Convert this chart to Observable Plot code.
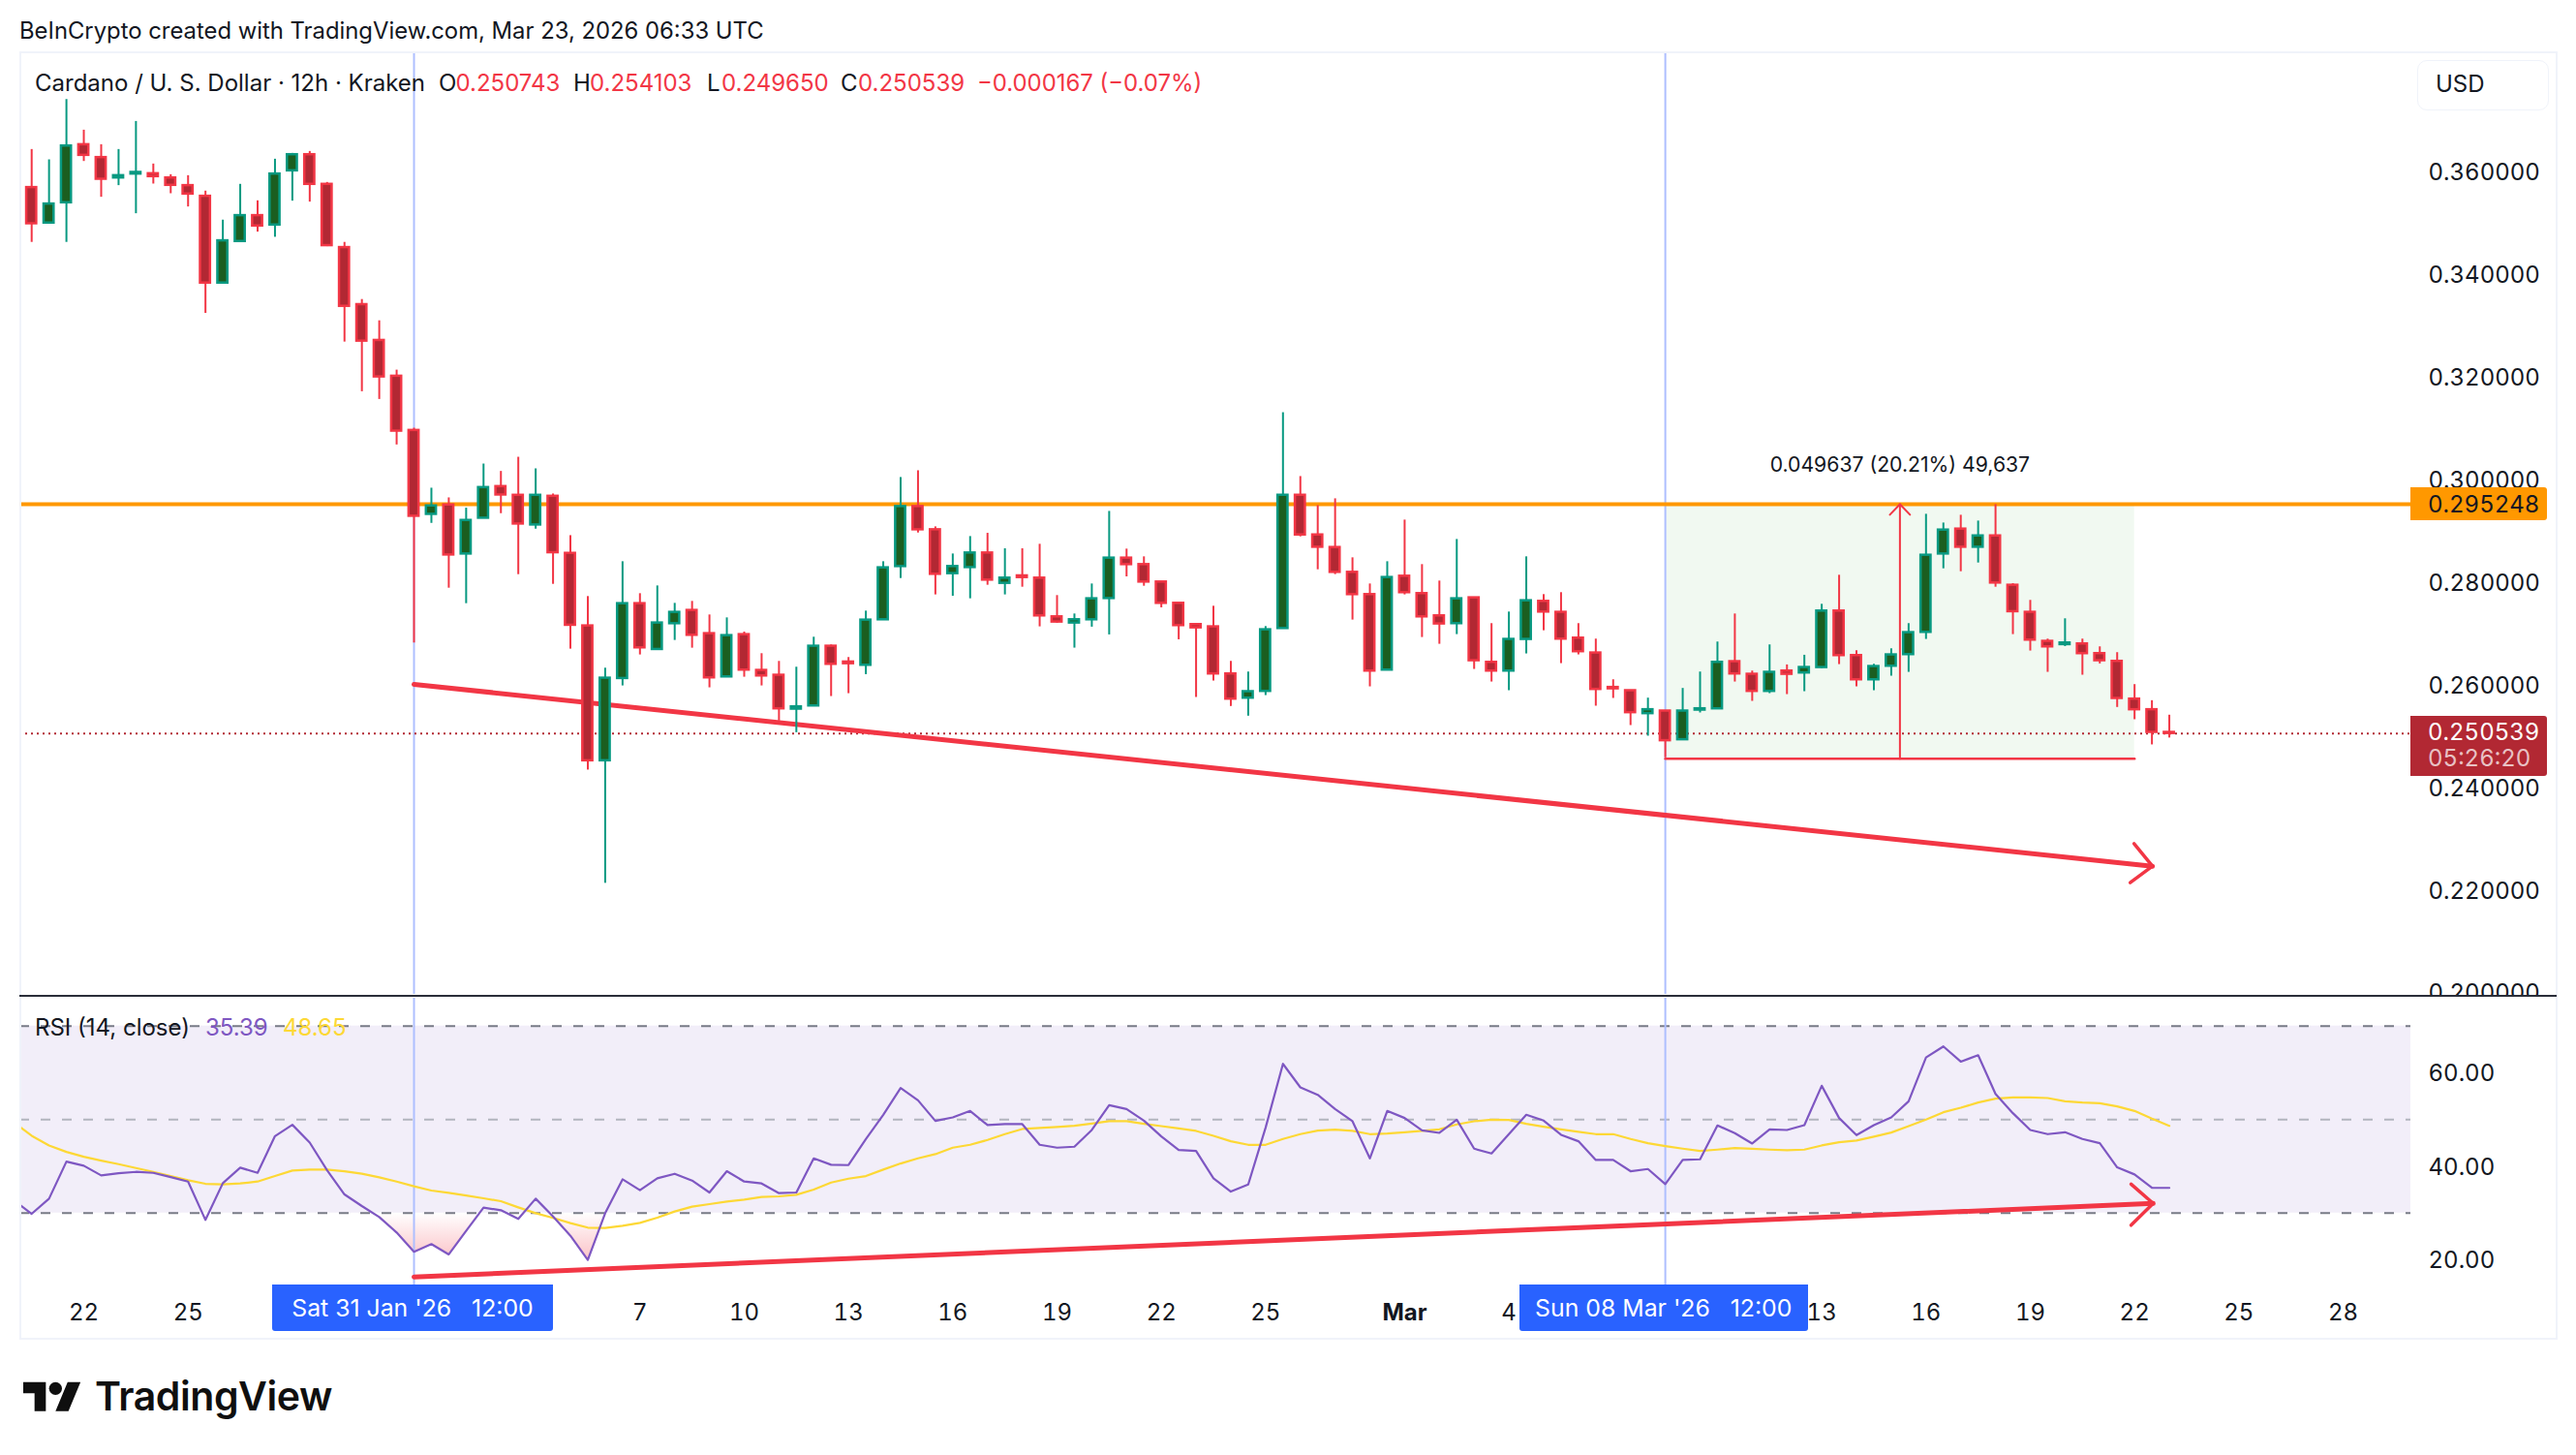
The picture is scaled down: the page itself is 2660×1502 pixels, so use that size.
<!DOCTYPE html>
<html>
<head>
<meta charset="utf-8">
<script src="https://cdn.jsdelivr.net/npm/d3@7"></script>
<script src="https://cdn.jsdelivr.net/npm/@observablehq/plot@0.6"></script>
<style>
  html, body { margin: 0; padding: 0; background: #fff; }
  #page { position: relative; width: 2660px; height: 1502px; overflow: hidden; font-family: Inter, sans-serif; color: #131722; }
  #page > svg, #page > div, #page > span { position: absolute; }
  .t { position: absolute; white-space: pre; line-height: 1; }
  .red { color: #f23645; }
</style>
</head>
<body>
<div id="page"></div>
<script>
// Candles, one every 12 hours, first bar Tue 20 Jan 2026 12:00 UTC
const opens = [.35699,.35007,.35403,.36535,.36284,.35887,.35963,.35969,.35887,.35737,
.35529,.33837,.34648,.35152,.34969,.36026,.36340,.35762,.34529,.33416,
.32718,.32020,.30963,.29327,.29510,.28554,.29252,.29868,.29698,.29120,
.29679,.28566,.27151,.24522,.26126,.27585,.26692,.27195,.27453,.27000,
.26157,.26981,.26283,.26189,.25529,.25591,.26755,.26447,.26384,.27271,
.28309,.29479,.29026,.28171,.28290,.28573,.27982,.28127,.28083,.27328,
.27208,.27271,.27686,.28473,.28347,.28007,.27592,.27177,.27133,.26215,
.25743,.25875,.27101,.29699,.28925,.28680,.28196,.27762,.26290,.28120,
.27781,.27347,.27196,.27699,.26441,.26271,.26888,.27630,.27416,.26913,
.26623,.25951,.25888,.25441,.25491,.24932,.25510,.25535,.26454,.26208,
.25875,.26271,.26234,.26340,.27441,.26573,.26101,.26366,.26592,.27026,
.28554,.29039,.28686,.28906,.27944,.27416,.26850,.26787,.26800,.26611,
.26460,.25724,.25517,.250743];
const closes = [.34994,.35378,.36510,.36328,.35862,.35931,.35994,.35913,.35743,.35573,
.33837,.34661,.35152,.34950,.35963,.36340,.35762,.34567,.33384,.32705,
.32007,.30950,.29290,.29491,.28535,.29208,.29849,.29705,.29139,.29698,
.28579,.27164,.24522,.26132,.27585,.26724,.27208,.27415,.26969,.26139,
.26962,.26290,.26176,.25535,.25573,.26755,.26403,.26415,.27264,.28284,
.29479,.29026,.28158,.28309,.28573,.28045,.28083,.28095,.27347,.27227,
.27271,.27680,.28473,.28347,.28007,.27592,.27158,.27114,.26215,.25724,
.25869,.27076,.29699,.28925,.28686,.28196,.27762,.26271,.28095,.27800,
.27328,.27190,.27680,.26473,.26271,.26888,.27642,.27422,.26894,.26649,
.25913,.25925,.25460,.25517,.24913,.25491,.25535,.26441,.26215,.25875,
.26246,.26208,.26340,.27441,.26573,.26101,.26359,.26586,.27020,.28529,
.29020,.28686,.28906,.27988,.27429,.26875,.26743,.26818,.26611,.26473,
.25737,.25517,.25076,.250539];
const highs = [.36441,.36240,.37416,.36818,.36535,.36441,.36988,.36158,.35950,.35931,
.35630,.35064,.35762,.35441,.36252,.36365,.36403,.35799,.34630,.33516,
.33101,.32139,.31007,.29837,.29648,.29447,.30308,.30164,.30440,.30214,
.29724,.28912,.27724,.26327,.28403,.27780,.27931,.27591,.27629,.27365,
.27308,.27032,.26610,.26459,.26346,.26931,.26780,.26535,.27440,.28403,
.30045,.30177,.29083,.28554,.28894,.28957,.28655,.28655,.28743,.27743,
.27384,.27969,.29384,.28649,.28498,.28007,.27592,.27196,.27535,.26460,
.26252,.27139,.31309,.30064,.29498,.29630,.28479,.27969,.28403,.29215,
.28347,.28026,.28837,.27699,.27196,.27422,.28498,.27762,.27800,.27196,
.26894,.26101,.25888,.25743,.25491,.25932,.26252,.26837,.27384,.26271,
.26781,.26391,.26579,.27573,.28139,.26668,.26403,.26705,.27196,.29328,
.29158,.29309,.29196,.29517,.27976,.27649,.26894,.27290,.26894,.26743,
.26630,.26007,.25693,.254103];
const lows = [.34630,.35007,.34630,.36208,.35510,.35737,.35189,.35768,.35579,.35321,
.33246,.33837,.34630,.34831,.34730,.35435,.35416,.34548,.32686,.31718,
.31567,.30680,.26818,.29151,.27887,.27585,.29252,.29340,.28151,.29038,
.27962,.26698,.24340,.22132,.25981,.26585,.26692,.26868,.26717,.25944,
.26157,.26151,.25981,.25296,.25069,.25591,.25774,.25830,.26201,.27271,
.28076,.28963,.27756,.27730,.27680,.27944,.27756,.27906,.27133,.27202,
.26718,.27127,.26976,.28108,.27925,.27504,.26881,.25756,.26076,.25579,
.25391,.25793,.27101,.28888,.28246,.28152,.27265,.25963,.26290,.27756,
.26925,.26793,.26982,.26303,.26057,.25888,.26605,.27057,.26416,.26586,
.25586,.25737,.25208,.25001,.24579,.24932,.25454,.25535,.26057,.25680,
.25831,.25812,.25869,.26322,.26397,.25963,.25888,.26171,.26246,.26888,
.28265,.28208,.28378,.27906,.26982,.26661,.26246,.26749,.26190,.26410,
.25561,.25322,.24831,.249650];

// RSI and its average, from the bar before the first candle onward
const rsiValues = [32.67,29.84,33.08,41.01,40.12,38.05,38.53,38.81,38.60,37.70,36.74,
28.53,36.40,39.71,38.60,46.46,48.88,45.08,39.15,33.98,31.50,
29.15,25.84,21.71,23.36,21.15,26.19,31.15,30.60,28.74,33.08,
29.29,25.15,19.98,29.98,37.22,34.88,37.43,38.40,36.95,34.40,
38.95,36.74,36.33,34.26,34.40,41.70,40.33,40.26,45.84,51.02,
56.74,54.12,49.71,50.46,51.84,48.81,49.02,49.02,44.60,43.98,
44.19,47.77,53.08,52.26,49.77,46.39,43.50,43.29,37.43,34.60,
36.12,48.26,61.91,56.88,55.29,52.26,49.64,41.70,51.84,50.33,
47.70,47.15,49.98,43.77,42.74,46.88,51.02,49.77,46.74,45.36,
41.36,41.36,38.95,39.43,36.19,41.36,41.50,48.74,47.08,44.88,
47.91,47.77,48.81,57.22,50.33,46.67,48.81,50.46,53.91,63.29,
65.64,62.39,63.77,55.50,51.36,47.77,46.88,47.29,45.84,44.95,
39.77,38.26,35.43,35.39];
const rsiAverage = [49.36,46.53,44.46,43.08,42.05,41.22,40.46,39.64,38.81,37.91,37.01,
36.26,36.12,36.33,36.74,37.91,39.08,39.29,39.29,38.95,38.40,
37.64,36.74,35.71,34.81,34.33,33.77,33.15,32.53,31.22,29.98,
28.95,27.84,26.88,26.81,27.29,27.91,29.01,30.33,31.36,31.91,
32.46,32.88,33.43,33.57,33.91,35.01,36.53,37.36,37.91,39.29,
40.60,41.70,42.60,43.98,44.60,45.64,46.88,47.98,48.19,48.40,
48.67,49.15,49.64,49.64,49.08,48.60,48.12,47.57,46.53,45.36,
44.60,44.60,45.84,46.88,47.64,47.84,47.57,46.88,47.01,47.29,
47.57,47.91,48.95,49.64,49.98,49.91,49.08,48.46,47.91,47.36,
46.88,46.88,45.84,44.95,44.33,43.77,43.29,43.57,43.91,43.77,
43.57,43.43,43.57,44.46,45.15,45.50,46.33,47.22,48.60,49.98,
51.57,52.53,53.64,54.46,54.74,54.74,54.60,53.91,53.64,53.50,
52.81,51.84,50.19,48.65];

const priceTicks = [0.20,0.22,0.24,0.26,0.28,0.30,0.32,0.34,0.36];
const rsiTicks = [20,40,60];
const rsiLevels = [30,50,70];
const dayTicks = ["2026-01-22","2026-01-25","2026-02-07","2026-02-10","2026-02-13","2026-02-16","2026-02-19","2026-02-22","2026-02-25","2026-03-04","2026-03-13","2026-03-16","2026-03-19","2026-03-22","2026-03-25","2026-03-28"];
const monthTick = "2026-03-01";

const resistance = 0.295248;
const lastPrice = 0.250539;
const measureTop = 0.295248;
const measureBottom = 0.245611;

// bar number -> time
const bar = i => new Date(Date.UTC(2026, 0, 20, 12) + i * 12 * 3600e3);
const markerBars = [22, 94];
const priceTrend = [[22,.26011],[122.03,.22466]];
const priceHead  = [[120.97,.22906],[122.03,.22466],[120.75,.22145]];
const measureArrowHead = [[106.92,.29320],[107.5,.295248],[108.08,.29320]];
const rsiTrend = [[22,16.34],[122.07,32.06]];
const rsiHead  = [[120.8,36.2],[122.07,32.06],[120.8,27.4]];
const pts = a => a.map(([i, v]) => ({t: bar(i), v}));

const candles = opens.map((o, i) => ({t: bar(i), o, h: highs[i], l: lows[i], c: closes[i], up: closes[i] >= o}));
const rsiRows = rsiValues.map((r, k) => ({t: bar(k - 1), r, a: rsiAverage[k]}));

const UP = "#089981", UPF = "#1b5e20", DOWN = "#f23645", DOWNF = "#b22833";
const halfBody = 3.45 * 3600e3;
const xDomain = [bar(-0.68), bar(136.9)];
const fontStyle = {fontFamily: "Inter, sans-serif", fontSize: "24px", color: "#131722", background: "transparent"};
const page = document.getElementById("page");

const pricePlot = Plot.plot({
  width: 2660, height: 1028,
  marginLeft: 20, marginRight: 171, marginTop: 54, marginBottom: 2,
  style: fontStyle,
  x: {type: "utc", domain: xDomain, axis: null},
  y: {domain: [0.20, 0.36], range: [1024.2, 177.2]},
  marks: [
    Plot.rect([{}], {x1: () => bar(94), x2: () => bar(121), y1: () => measureBottom, y2: () => measureTop, fill: "#4caf50", fillOpacity: 0.08}),
    Plot.ruleX(markerBars.map(bar), {stroke: "#aebfff", strokeWidth: 2}),
    Plot.ruleY([lastPrice], {stroke: DOWNF, strokeWidth: 2, strokeDasharray: "2 4"}),
    Plot.ruleY([resistance], {stroke: "#ff9800", strokeWidth: 4}),
    Plot.line(pts(priceTrend), {x: "t", y: "v", stroke: DOWN, strokeWidth: 5}),
    Plot.line(pts(priceHead), {x: "t", y: "v", stroke: DOWN, strokeWidth: 3.5}),
    Plot.line(pts([[94, measureBottom],[121, measureBottom]]), {x: "t", y: "v", stroke: DOWN, strokeWidth: 2.5}),
    Plot.line(pts([[107.5, measureBottom],[107.5, measureTop]]), {x: "t", y: "v", stroke: DOWN, strokeWidth: 2}),
    Plot.line(pts(measureArrowHead), {x: "t", y: "v", stroke: DOWN, strokeWidth: 2}),
    Plot.ruleX(candles, {x: "t", y1: "l", y2: "h", stroke: d => d.up ? UP : DOWN, strokeWidth: 2}),
    Plot.rect(candles, {
      x1: d => new Date(+d.t - halfBody), x2: d => new Date(+d.t + halfBody),
      y1: "o", y2: "c",
      fill: d => d.up ? UPF : DOWNF, stroke: d => d.up ? UP : DOWN, strokeWidth: 2.5
    }),
    Plot.text(["0.049637 (20.21%) 49,637"], {x: () => bar(107.5), y: () => 0.30277, text: d => d, fontSize: 21.2, fill: "#131722"}),
    Plot.axisY({anchor: "right", ticks: priceTicks, tickSize: 0, tickPadding: 18, dy: 1, tickFormat: d3.format(".6f"), label: null, fill: "#131722"})
  ]
});
pricePlot.style.position = "absolute"; pricePlot.style.left = "0"; pricePlot.style.top = "0";
page.appendChild(pricePlot);

const rsiPlot = Plot.plot({
  width: 2660, height: 354,
  marginLeft: 20, marginRight: 171, marginTop: 2, marginBottom: 56,
  style: fontStyle,
  x: {type: "utc", domain: xDomain},
  y: {domain: [20, 70], range: [272, 30.7]},
  marks: [
    () => {
      const defs = d3.create("svg:defs");
      const g = defs.append("linearGradient").attr("id", "oversold").attr("gradientUnits", "userSpaceOnUse")
        .attr("x1", 0).attr("x2", 0).attr("y1", 223.6).attr("y2", 272);
      g.append("stop").attr("offset", 0).attr("stop-color", DOWN).attr("stop-opacity", 0);
      g.append("stop").attr("offset", 1).attr("stop-color", DOWN).attr("stop-opacity", 0.3);
      return defs.node();
    },
    Plot.rectY([{}], {x1: () => xDomain[0], x2: () => xDomain[1], y1: () => 30, y2: () => 70, fill: "#7e57c2", fillOpacity: 0.1}),
    Plot.areaY(rsiRows, {x: "t", y1: 30, y2: "r", fill: "url(#oversold)", clip: true}),
    Plot.ruleY(rsiLevels, {stroke: d => d === 50 ? "#b2b5be" : "#787b86", strokeWidth: 2, strokeDasharray: "10 12"}),
    Plot.ruleX(markerBars.map(bar), {stroke: "#aebfff", strokeWidth: 2}),
    Plot.line(rsiRows, {x: "t", y: "a", stroke: "#fdd835", strokeWidth: 2.2, clip: true}),
    Plot.line(rsiRows, {x: "t", y: "r", stroke: "#7e57c2", strokeWidth: 2.2, clip: true}),
    Plot.line(pts(rsiTrend), {x: "t", y: "v", stroke: DOWN, strokeWidth: 5}),
    Plot.line(pts(rsiHead), {x: "t", y: "v", stroke: DOWN, strokeWidth: 3.5}),
    Plot.axisY({anchor: "right", ticks: rsiTicks, tickSize: 0, tickPadding: 18, dy: 1, tickFormat: d3.format(".2f"), label: null, fill: "#131722"}),
    Plot.axisX({ticks: dayTicks.map(d => new Date(d + "T00:00Z")), tickSize: 0, tickPadding: 19.5, tickFormat: d3.utcFormat("%-d"), label: null, fill: "#131722"}),
    Plot.text([monthTick], {x: d => new Date(d + "T00:00Z"), frameAnchor: "bottom", dy: 36, text: () => "Mar", fontWeight: 700, fill: "#131722"})
  ]
});
rsiPlot.style.position = "absolute"; rsiPlot.style.left = "0"; rsiPlot.style.top = "1028px";
page.appendChild(rsiPlot);

// HTML overlays: chrome, legend, tags
function box(l, t, w, h, css) {
  const d = document.createElement("div");
  d.style.cssText = `left:${l}px;top:${t}px;width:${w}px;height:${h}px;box-sizing:border-box;${css}`;
  page.appendChild(d); return d;
}
function txt(s, x, yc, size, css = "") {
  const d = document.createElement("div");
  d.className = "t"; d.textContent = s;
  d.style.cssText = `left:${x}px;top:${yc}px;font-size:${size}px;transform:translateY(-50%);${css}`;
  page.appendChild(d); return d;
}
box(20, 53, 2621, 1330, "border:2px solid #f0f3fa;");
box(20, 1027, 2620, 2, "background:#2a2e39;");
txt("BeInCrypto created with TradingView.com, Mar 23, 2026 06:33 UTC", 20, 32, 23.84);
txt("Cardano / U. S. Dollar · 12h · Kraken", 36, 86, 24);
[["O","0.250743",453,470.5],["H","0.254103",592,609],["L","0.249650",730,745],["C","0.250539",868,886]].forEach(([k,v,a,b]) => {
  txt(k, a, 86, 24); txt(v, b, 86, 24, "color:#f23645;");
});
txt("−0.000167 (−0.07%)", 1009, 86, 23.9, "color:#f23645;");
txt("RSI (14, close)", 36, 1061, 24);
txt("35.39", 212, 1061, 24, "color:#7e57c2;");
txt("48.65", 292, 1061, 24, "color:#fdd835;");
box(2496, 62, 136, 52, "border:1.5px solid #f0f3fa;border-radius:10px;background:#fff;");
txt("USD", 2515, 87, 24);
box(2489, 503, 141, 34, "background:#ff9800;border-radius:0 3px 3px 0;");
txt("0.295248", 2507, 521, 24, "font-variant-numeric:tabular-nums;");
box(2489, 739, 141, 62, "background:#b22833;border-radius:0 3px 3px 0;");
txt("0.250539", 2507, 756, 24, "color:#fff;font-variant-numeric:tabular-nums;");
txt("05:26:20", 2507, 783, 24, "color:rgba(255,255,255,.72);font-variant-numeric:tabular-nums;");
[[281,290,"Sat 31 Jan '26   12:00"],[1568.5,298.5,"Sun 08 Mar '26   12:00"]].forEach(([l,w,s]) => {
  const b = box(l, 1326, w, 48, "background:#2962ff;border-radius:0 0 3px 3px;color:#fff;font-size:24.8px;line-height:48px;text-align:center;white-space:pre;");
  b.textContent = s;
});
// TradingView logo
const logo = document.createElementNS("http://www.w3.org/2000/svg", "svg");
logo.setAttribute("viewBox", "0 0 36 28"); logo.setAttribute("width", "60"); logo.setAttribute("height", "46.7");
logo.style.cssText = "left:24px;top:1419.5px;";
logo.innerHTML = '<path fill="#0f0f0f" d="M14 22H7V11H0V4h14v18zM28 22h-8l7.5-18h8L28 22z"/><circle fill="#0f0f0f" cx="20" cy="8" r="4"/>';
page.appendChild(logo);
txt("TradingView", 98, 1441, 41, "font-weight:600;letter-spacing:-0.45px;color:#0f0f0f;");
</script>
</body>
</html>
